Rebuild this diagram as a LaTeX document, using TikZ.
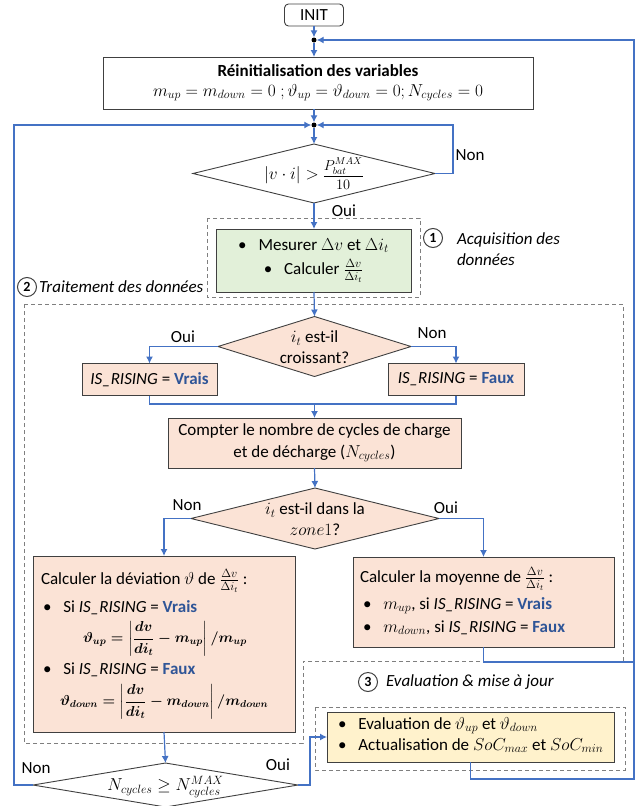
\documentclass[tikz,border=0pt]{standalone}
\usepackage{amsmath}
\usepackage{fontspec}
\setmainfont{Carlito}
\usetikzlibrary{shapes.geometric,arrows.meta,calc}
\definecolor{flow}{HTML}{4472C4}
\definecolor{peach}{HTML}{FBE3D6}
\definecolor{lgreen}{HTML}{E2F0D9}
\definecolor{lyellow}{HTML}{FFF2CC}
\definecolor{vf}{HTML}{2F5597}
\definecolor{dgray}{HTML}{7F7F7F}
\definecolor{bord}{HTML}{404040}
\newcommand\bodyfont{\fontsize{17}{20.5}\selectfont}
\newcommand\eqfont{\fontsize{14.5}{17}\selectfont}
\newcommand\vrai{\textcolor{vf}{\textbf{Vrais}}}
\newcommand\faux{\textcolor{vf}{\textbf{Faux}}}
\newcommand\isr{\textit{IS\_RISING}}
\newcommand\bul{\textbullet\hspace{0.7em}}
\newcommand\equp{\mbox{\eqfont\boldmath$\vartheta_{up}=\left\vert\dfrac{dv}{di_t}-m_{up}\right\vert/m_{up}$}}
\newcommand\eqdown{\mbox{\eqfont\boldmath$\vartheta_{down}=\left\vert\dfrac{dv}{di_t}-m_{down}\right\vert/m_{down}$}}
\tikzset{
  txt/.style={font=\bodyfont, inner sep=0pt, outer sep=0pt},
  tline/.style={txt, anchor=mid west},
  proc/.style={txt, draw=bord, line width=0.9pt, rectangle, align=center},
  dia/.style={txt, diamond, draw=bord, line width=0.9pt, fill=peach},
  flowline/.style={draw=flow, line width=1.2pt},
  arr/.style={flowline, -{Latex[length=7pt,width=7pt]}},
  dbox/.style={draw=dgray, line width=0.9pt, dash pattern=on 4pt off 3pt},
  numc/.style={circle, draw=bord, line width=1pt, minimum size=19pt, inner sep=0pt, font=\fontsize{14}{16}\selectfont\bfseries},
  jdot/.style={circle, fill=black, inner sep=0pt, minimum size=5pt},
  itlab/.style={txt, anchor=west, align=left, font=\bodyfont\itshape},
}
\begin{document}
\begin{tikzpicture}[x=1pt,y=-1pt]
\useasboundingbox (0,0) rectangle (641,806);

% dashed groups
\draw[dbox] (207,218) rectangle (420,297);
\draw[dbox] (24,304) -- (623,304) -- (623,661) -- (303,661) -- (303,743) -- (24,743) -- cycle;
\draw[dbox] (315,707) rectangle (625,770);

% nodes
\node[proc, rounded corners=4pt, minimum width=59, minimum height=22] (init) at (314,15) {INIT};
\node[jdot] (j1) at (314,40) {};
\node[proc, minimum width=430, minimum height=52] (reinit) at (318,83)
  {\textbf{Réinitialisation des variables}\\[-1pt] \mbox{\fontsize{18.5}{20.5}\selectfont$m_{up}=m_{down}=0\;;\vartheta_{up}=\vartheta_{down}=0;N_{cycles}=0$}};
\node[jdot] (j2) at (314,125) {};
\node[dia, fill=white, minimum width=242, minimum height=59] (d1) at (314,173.5) {};
\node[txt] (d1t) at (314,174) {$\vert v\cdot i\vert >$ \mbox{\fontsize{14}{16}\selectfont$\dfrac{P_{bat}^{MAX}}{10}$}};

\node[proc, fill=lgreen, minimum width=195, minimum height=63] (acq) at (313.5,260.5)
  {\bul Mesurer $\Delta v$ et $\Delta i_t$\\[4pt] \bul Calculer $\frac{\Delta v}{\Delta i_t}$};

\node[dia, minimum width=193, minimum height=60] (d2) at (314.5,346.5) {};
\node[txt, align=center] (d2t) at (314.5,347) {$i_t$ est-il\\croissant?};

\node[proc, fill=peach, minimum width=135, minimum height=32] (vr) at (149.5,379.5) {\isr{} = \vrai};
\node[proc, fill=peach, minimum width=136, minimum height=32] (fx) at (456,379.5) {\isr{} = \faux};
\coordinate (mg) at (314.5,404);

\node[proc, fill=peach, minimum width=293, minimum height=50] (cpt) at (314.5,443)
  {Compter le nombre de cycles de charge\\[1pt] et de décharge ($N_{cycles}$)};

\node[dia, minimum width=248, minimum height=61] (d3) at (315,518.5) {};
\node[txt, align=center] (d3t) at (315,519) {$i_t$ est-il dans la\\ $zone1$?};

% left box (deviation)
\node[proc, fill=peach, minimum width=262, minimum height=176] (lb) at (164,644) {};
\node[tline] (lb1) at (41,582) {Calculer la déviation $\vartheta$ de $\frac{\Delta v}{\Delta i_t}$ :};
\node[tline] (lb2) at (43,610) {\bul Si \isr{} = \vrai};
\node[tline] (lb3) at (83,640) {\equp};
\node[tline] (lb4) at (43,672) {\bul Si \isr{} = \faux};
\node[tline] (lb5) at (60,703) {\eqdown};

% right box (moyenne)
\node[proc, fill=peach, minimum width=261, minimum height=90] (moy) at (483.5,602) {};
\node[tline] (my1) at (360,580) {Calculer la moyenne de $\frac{\Delta v}{\Delta i_t}$ :};
\node[tline] (my2) at (363,607) {\bul $m_{up}$, si \isr{} = \vrai};
\node[tline] (my3) at (363,630) {\bul $m_{down}$, si \isr{} = \faux};

\node[dia, fill=white, minimum width=265, minimum height=44] (d4) at (165.5,785) {};
\node[txt] (d4t) at (165.5,787) {$N_{cycles}\geq N_{cycles}^{MAX}$};

% yellow box
\node[proc, fill=lyellow, minimum width=287, minimum height=50] (yel) at (470.5,737) {};
\node[tline] (ye1) at (338,727) {\bul Evaluation de $\vartheta_{up}$ et $\vartheta_{down}$};
\node[tline] (ye2) at (338,748) {\bul Actualisation de $SoC_{max}$ et $SoC_{min}$};

% group labels
\node[numc] (c1) at (433,238) {1};
\node[itlab] (lab1) at (457,249) {Acquisition des\\[1pt]données};
\node[numc] (c2) at (27,287) {2};
\node[itlab] (lab2) at (39,287) {Traitement des données};
\node[numc] (c3) at (368,682) {3};
\node[itlab] (lab3) at (386,682) {Evaluation \& mise à jour};

% branch labels
\node[txt] (nonA) at (470,155) {Non};
\node[txt] (ouiA) at (344,211) {Oui};
\node[txt] (ouiB) at (183,337) {Oui};
\node[txt] (nonB) at (432,333) {Non};
\node[txt] (nonC) at (187,505) {Non};
\node[txt] (ouiC) at (446,508) {Oui};
\node[txt] (nonD) at (36,768) {Non};
\node[txt] (ouiD) at (278,765) {Oui};

% helper coordinates
\coordinate (nn) at (453,125);
\coordinate (ll) at (14,125);
\coordinate (oo) at (310,737);
\coordinate (rj) at (634,662);
\coordinate (rb) at (634,779);
\coordinate (rt) at (634,40);

% connectors
\draw[arr] (init) -- (j1);
\draw[arr] (j1) -- (j1 |- reinit.north);
\draw[arr] (j1 |- reinit.south) -- (j2);
\draw[arr] (j2) -- (d1.north);
\draw[arr] (d1.south) -- (d1.south |- acq.north);
\draw[arr] (d1.south |- acq.south) -- (d2.north);
\draw[arr] (d1.east) -| (nn) -- (j2);
\draw[arr] (d2.west) -| (vr.north);
\draw[arr] (d2.east) -| (fx.north);
\draw[flowline] (vr.south) |- (mg) -| (fx.south);
\draw[arr] (mg) -- (cpt.north);
\draw[arr] (cpt.south) -- (d3.north);
\draw[arr] (d3.west) -| (lb.north);
\draw[arr] (d3.east) -| (moy.north);
\draw[arr] (lb.south) -- (d4.north);
\draw[arr] (d4.west) -| (ll) -- (j2);
\draw[arr] (d4.east) -| (oo) -- (yel.west);
\draw[flowline] (moy.south) |- (rj);
\draw[arr] (yel.south) |- (rb) -- (rt) -- (j1);
\end{tikzpicture}
\end{document}
